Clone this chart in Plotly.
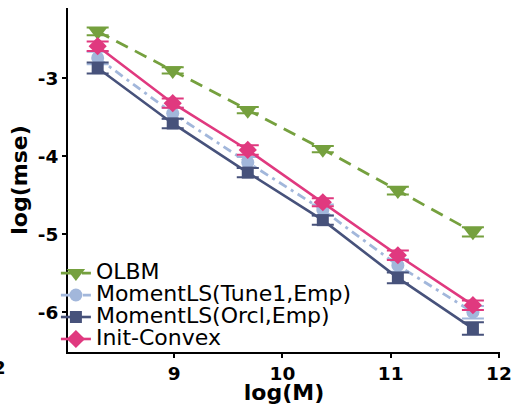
import numpy as np
import plotly.graph_objects as go

M = [4000, 8000, 16000, 32000, 64000, 128000]
x_logM = list(np.log(M))

olbm = [-2.40, -2.90, -3.41, -3.91, -4.44, -4.97]
olbm_err = [0.05, 0.04, 0.04, 0.04, 0.05, 0.06]
tune1 = [-2.74, -3.45, -4.08, -4.69, -5.40, -6.00]
tune1_err = [0.08, 0.07, 0.07, 0.07, 0.08, 0.08]
orcl = [-2.87, -3.58, -4.21, -4.82, -5.56, -6.21]
orcl_err = [0.07, 0.06, 0.06, 0.06, 0.07, 0.08]
initc = [-2.59, -3.32, -3.92, -4.59, -5.27, -5.91]
initc_err = [0.06, 0.06, 0.06, 0.05, 0.06, 0.06]

names = ["OLBM", "MomentLS(Tune1,Emp)", "MomentLS(Orcl,Emp)", "Init-Convex"]
colors = ["#75A03E", "#A2B7DB", "#47527B", "#E0397F"]
symbols = ["triangle-down", "circle", "square", "diamond"]
sizes = [17, 13, 12, 14]
dashes = ["13px,8px", "9px,5px,3px,5px", "solid", "solid"]
widths = [2.8, 2.8, 2.6, 2.6]
series = [olbm, tune1, orcl, initc]
errs = [olbm_err, tune1_err, orcl_err, initc_err]

fig = go.Figure()
for n, c, s, sz, d, w, y, e in zip(names, colors, symbols, sizes, dashes, widths, series, errs):
    fig.add_trace(go.Scatter(
        x=x_logM, y=y,
        name='<span style="font-size:22px">' + n + '</span>',
        mode="lines+markers",
        line=dict(color=c, width=w, dash=d),
        marker=dict(symbol=s, size=sz, color=c),
        error_y=dict(type="data", array=e, color=c, thickness=2, width=11),
    ))

fig.add_annotation(text="<b>12</b>", xref="paper", yref="paper",
                   x=-0.139, y=-0.0465, xanchor="right", yanchor="middle",
                   showarrow=False, font=dict(size=18.5, color="black", family="DejaVu Sans"))

fig.update_layout(
    width=512, height=405,
    margin=dict(l=68, r=12, t=8, b=53),
    paper_bgcolor="white", plot_bgcolor="white",
    font=dict(family="DejaVu Sans", color="black"),
    showlegend=True,
    legend=dict(x=-0.028, y=0.276, xanchor="left", yanchor="top",
                bgcolor="rgba(0,0,0,0)", font=dict(size=14.6, color="black"),
                tracegroupgap=0, itemsizing="trace"),
    xaxis=dict(range=[8.02, 12.01], tickvals=[9, 10, 11, 12],
               ticktext=["<b>9</b>", "<b>10</b>", "<b>11</b>", "<b>12</b>"],
               showline=True, linecolor="black", linewidth=2, ticks="outside",
               ticklen=4, tickwidth=1.5, tickcolor="black", showgrid=False, zeroline=False,
               tickfont=dict(size=18.5), automargin=False,
               title=dict(text="<b>log(M)</b>", font=dict(size=22), standoff=2)),
    yaxis=dict(range=[-6.51, -2.10], tickvals=[-3, -4, -5, -6],
               ticktext=["<b>-3</b>", "<b>-4</b>", "<b>-5</b>", "<b>-6</b>"],
               showline=True, linecolor="black", linewidth=2, ticks="outside",
               ticklen=4, tickwidth=1.5, tickcolor="black", showgrid=False, zeroline=False,
               tickfont=dict(size=18.5), automargin=False,
               title=dict(text="<b>log(mse)</b>", font=dict(size=22), standoff=4)),
)

fig.write_html("out.html", config={"displayModeBar": False},
               post_script="document.body.style.margin='0';document.body.style.overflow='hidden';")
